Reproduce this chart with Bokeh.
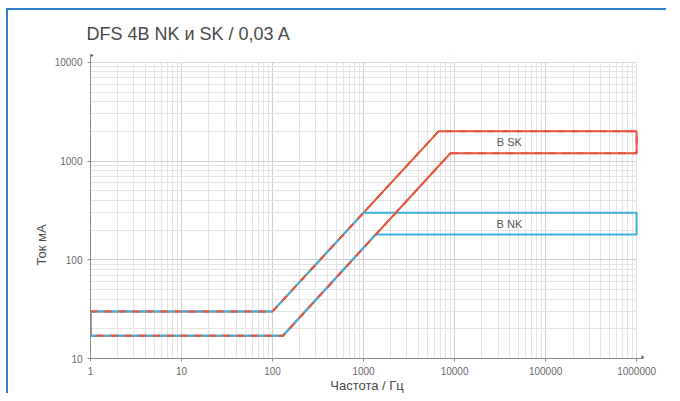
import math
from bokeh.plotting import figure
from bokeh.models import BoxAnnotation, Range1d, FixedTicker, Title
from bokeh.core.properties import value
from bokeh.embed import file_html
from bokeh.resources import INLINE

# ---- data ----
title_text = "DFS 4B NK и SK / 0,03 A"
x_label = "Частота / Гц"
y_label = "Ток мА"

x_ticks = [1, 10, 100, 1000, 10000, 100000, 1000000]
y_ticks = [10, 100, 1000, 10000]

# B SK band (closed outline): upper edge then lower edge back
sk_freq = [1, 100, 6667, 1000000, 1000000, 9000, 130, 1, 1]
sk_curr = [30, 30, 2000, 2000, 1200, 1200, 17, 17, 30]

# B NK band
nk_freq = [1, 100, 1000, 1000000, 1000000, 1350, 130, 1, 1]
nk_curr = [30, 30, 300, 300, 180, 180, 17, 17, 30]

sk_label = "B SK"
nk_label = "B NK"
sk_label_x = 40000
nk_label_x = 40000

X_MIN, X_MAX = 1, 1000000
Y_MIN, Y_MAX = 10, 10000
X_END, Y_END = 1.19e6, 12000

RED = "#e5563c"
BLUE = "#3db0e2"
FONT = "Liberation Sans"

p = figure(width=660, height=385, x_axis_type="log", y_axis_type="log",
           x_range=Range1d(X_MIN, X_END), y_range=Range1d(Y_MIN, Y_END),
           output_backend="svg", toolbar_location=None,
           min_border_left=82, min_border_right=25, min_border_top=44, min_border_bottom=35)
p.margin = (8, 0, 0, 6)
p.styles = {"border-left": "2px solid #2f80d0", "border-top": "2px solid #2f80d0"}

p.title.text = title_text
p.title.text_font = FONT
p.title.text_font_size = "18px"
p.title.text_font_style = "normal"
p.title.text_color = "#4a4a4a"
p.title.offset = -4
p.title.standoff = 21

p.outline_line_color = None
p.background_fill_color = "white"
p.border_fill_color = "white"

p.xaxis.ticker = FixedTicker(ticks=x_ticks, minor_ticks=[d * m for d in x_ticks[:-1] for m in range(2, 10)])
p.yaxis.ticker = FixedTicker(ticks=y_ticks, minor_ticks=[d * m for d in y_ticks[:-1] for m in range(2, 10)])
p.xaxis.major_label_overrides = {t: str(t) for t in x_ticks}
p.yaxis.major_label_overrides = {t: str(t) for t in y_ticks}

for ax in (p.xaxis, p.yaxis):
    ax.axis_line_color = "#8a8a8a"
    ax.major_tick_line_color = "#8a8a8a"
    ax.major_tick_out = 3
    ax.major_tick_in = 0
    ax.minor_tick_line_color = None
    ax.major_label_text_font = FONT
    ax.major_label_text_font_size = "10px"
    ax.major_label_text_color = "#6a6a6a"
    ax.major_label_standoff = 4

p.xaxis.axis_label = x_label
p.xaxis.axis_label_text_font = FONT
p.xaxis.axis_label_text_font_size = "13px"
p.xaxis.axis_label_text_font_style = "normal"
p.xaxis.axis_label_text_color = "#4a4a4a"
p.xaxis.axis_label_standoff = 0

p.xgrid.grid_line_color = "#cfcfcf"
p.ygrid.grid_line_color = "#cfcfcf"
p.xgrid.minor_grid_line_color = "#e4e4e4"
p.ygrid.minor_grid_line_color = "#e4e4e4"

# hide grid beyond data extents (axis overshoot area)
p.add_layout(BoxAnnotation(left=X_MAX, fill_color="white", fill_alpha=1, line_color=None, level="underlay"))
p.add_layout(BoxAnnotation(bottom=Y_MAX, fill_color="white", fill_alpha=1, line_color=None, level="underlay"))

# bands
p.line(sk_freq, sk_curr, line_color=RED, line_width=2)
p.line(nk_freq, nk_curr, line_color=BLUE, line_width=2)
p.line(sk_freq, sk_curr, line_color=RED, line_width=2, line_dash="7 7")

# band labels
p.text([sk_label_x], [math.sqrt(sk_curr[2] * sk_curr[4])], text=[sk_label],
       text_font=value(FONT), text_font_size="11px", text_color="#555555",
       text_align="center", text_baseline="middle")
p.text([nk_label_x], [math.sqrt(nk_curr[2] * nk_curr[4])], text=[nk_label],
       text_font=value(FONT), text_font_size="11px", text_color="#555555",
       text_align="center", text_baseline="middle")

# y axis label (placed lower like the reference)
p.add_layout(Title(text=y_label, align="left", offset=93, text_font=FONT,
                   text_font_size="13px", text_font_style="normal",
                   text_color="#4a4a4a", standoff=6), "left")

# axis end arrows
p.scatter([X_MIN], [Y_END], marker="triangle", size=5, color="#555555")
p.scatter([X_END], [Y_MIN], marker="triangle", angle=-math.pi / 2, size=5, color="#555555")

open("out.html", "w").write(file_html(p, INLINE))
